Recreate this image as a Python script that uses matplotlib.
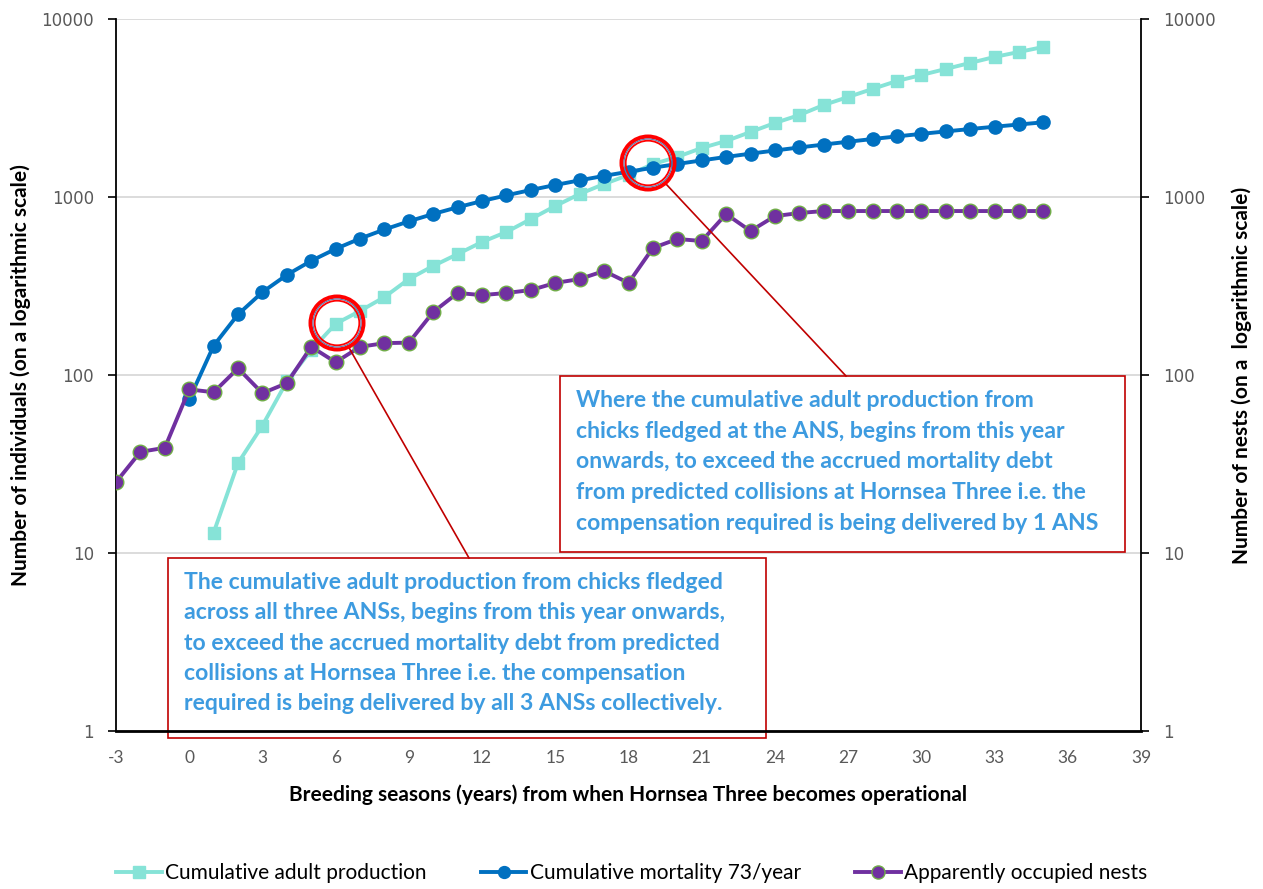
import matplotlib
matplotlib.use("Agg")
import matplotlib.pyplot as plt
from matplotlib.lines import Line2D
from matplotlib.patches import Rectangle, Ellipse

plt.rcParams['font.family'] = ['Lato', 'DejaVu Sans']

# ---------------- data ----------------
years_prod = list(range(1, 36))
cum_adult_production = [13, 32, 52, 92, 138, 194, 229, 274, 346, 410, 478, 559, 636,
                        752, 890, 1040, 1183, 1330, 1530, 1680, 1885, 2064, 2318, 2605,
                        2887, 3288, 3646, 4046, 4485, 4845, 5240, 5665, 6120, 6530, 6965]

years_mort = list(range(0, 36))
cum_mortality = [73, 146, 219, 292, 365, 438, 511, 584, 657, 730, 803, 876, 949, 1022,
                 1095, 1168, 1241, 1314, 1387, 1460, 1533, 1606, 1679, 1752, 1825, 1898,
                 1971, 2044, 2117, 2190, 2263, 2336, 2409, 2482, 2555, 2628]

years_nests = list(range(-3, 36))
occupied_nests = [25, 37, 39, 83, 80, 109, 79, 90, 144, 118, 144, 151, 152, 226, 289, 281,
                  289, 300, 329, 346, 384, 329, 517, 581, 566, 802, 644, 781, 813, 834,
                  834, 834, 834, 834, 834, 834, 834, 834, 834]

x_ticks = list(range(-3, 40, 3))
y_ticks = [1, 10, 100, 1000, 10000]
y_tick_labels = ['1', '10', '100', '1000', '10000']

series_labels = ['Cumulative adult production', 'Cumulative mortality 73/year',
                 'Apparently occupied nests']

note_right = ("Where the cumulative adult production from\n"
              "chicks fledged at the ANS, begins from this year\n"
              "onwards, to exceed the accrued mortality debt\n"
              "from predicted collisions at Hornsea Three i.e. the\n"
              "compensation required is being delivered by 1 ANS")
note_left = ("The cumulative adult production from chicks fledged\n"
             "across all three ANSs, begins from this year onwards,\n"
             "to exceed the accrued mortality debt from predicted\n"
             "collisions at Hornsea Three i.e. the compensation\n"
             "required is being delivered by all 3 ANSs collectively.")

# ---------------- styling ----------------
C_PROD = '#86E3D7'
C_MORT = '#0070C0'
C_NEST = '#7030A0'
C_NEST_EDGE = '#70AD47'
C_TEXT = '#3D9BE0'
C_RED = '#C00000'
GRID = '#D9D9D9'
TICKC = '#595959'

W, H = 1263, 889
fig = plt.figure(figsize=(W / 100, H / 100), dpi=100)


def fx(px):
    return px / W


def fy(py):
    return 1 - py / H


ax = fig.add_axes([fx(116), fy(731), fx(1141) - fx(116), fy(19) - fy(731)])
ax.set_yscale('log')
ax.set_xlim(-3, 39)
ax.set_ylim(1, 10000)
ax2 = ax.twinx()
ax2.set_yscale('log')
ax2.set_ylim(1, 10000)

for a in (ax, ax2):
    a.set_yticks(y_ticks)
    a.set_yticklabels(y_tick_labels, fontfamily='DejaVu Sans', fontsize=12, color=TICKC)
    a.yaxis.set_minor_locator(matplotlib.ticker.NullLocator())
    a.tick_params(axis='y', length=6, width=1.2, color='black', direction='out', pad=10)
    a.spines['top'].set_visible(False)

ax.set_xticks(x_ticks)
ax.set_xticklabels([str(t) for t in x_ticks], fontsize=12.5, color=TICKC)
ax.tick_params(axis='x', length=0, pad=14)
ax.spines['left'].set_linewidth(1.3)
ax2.spines['right'].set_linewidth(1.3)
ax2.spines['bottom'].set_linewidth(2)
ax.spines['bottom'].set_visible(False)
ax2.spines['left'].set_visible(False)
ax.spines['right'].set_visible(False)
ax.yaxis.grid(True, color=GRID, lw=1.3)
ax.set_axisbelow(True)

l1, = ax.plot(years_prod, cum_adult_production, color=C_PROD, lw=2.8, marker='s',
              ms=9, mfc=C_PROD, mec=C_PROD, label=series_labels[0], zorder=3)
l2, = ax.plot(years_mort, cum_mortality, color=C_MORT, lw=2.8, marker='o',
              ms=9.5, mfc=C_MORT, mec=C_MORT, label=series_labels[1], zorder=4)
l3, = ax2.plot(years_nests, occupied_nests, color=C_NEST, lw=2.8, marker='o',
               ms=10.5, mfc=C_NEST, mec=C_NEST_EDGE, mew=1, label=series_labels[2],
               zorder=5)

ax.set_xlabel('Breeding seasons (years) from when Hornsea Three becomes operational',
              fontsize=15, fontweight='bold', labelpad=13)
ax.set_ylabel('Number of individuals (on a logarithmic scale)', fontsize=15,
              fontweight='bold', labelpad=7)
ax2.set_ylabel('Number of nests (on a  logarithmic scale)', fontsize=15,
               fontweight='bold', labelpad=11)


# highlight circles (placed in figure pixel coordinates)
def ring(cx, cy):
    for r, lw, c in [(26.5, 4.0, '#FF0000'), (24.0, 1.2, '#5B7DB1'), (22.3, 1.8, '#FF0000')]:
        circ = Ellipse((fx(cx), fy(cy)), 2 * r / W, 2 * r / H,
                       transform=fig.transFigure, fill=False,
                       edgecolor=c, lw=lw * 0.72, zorder=10)
        fig.add_artist(circ)


ring(337, 323)
ring(648, 163)

# connector lines
fig.add_artist(Line2D([fx(348), fx(469)], [fy(346), fy(558)], color=C_RED, lw=1.2,
                      transform=fig.transFigure))
fig.add_artist(Line2D([fx(666), fx(846)], [fy(184), fy(376)], color=C_RED, lw=1.2,
                      transform=fig.transFigure))

# note boxes (drawn inside ax2 below its spines)
for (x0, y0, x1, y1) in [(560, 376, 1125, 552), (168, 558, 766, 738)]:
    ax2.add_patch(Rectangle((fx(x0), fy(y1)), fx(x1) - fx(x0), fy(y0) - fy(y1),
                            transform=fig.transFigure, facecolor='white',
                            edgecolor=C_RED, lw=1.2, zorder=2, clip_on=False))

fig.text(fx(576), fy(390), note_right, ha='left', va='top', fontsize=16.6,
         fontweight='bold', color=C_TEXT, linespacing=1.57, zorder=9)
fig.text(fx(184), fy(572), note_left, ha='left', va='top', fontsize=16.6,
         fontweight='bold', color=C_TEXT, linespacing=1.55, zorder=9)

fig.legend(handles=[l1, l2, l3], labels=series_labels, loc='center',
           bbox_to_anchor=(0.5, fy(873)), ncol=3, frameon=False, fontsize=15,
           handlelength=2.2, handletextpad=0.15, columnspacing=2.6, markerscale=0.9)

fig.savefig('out.png', dpi=100)
